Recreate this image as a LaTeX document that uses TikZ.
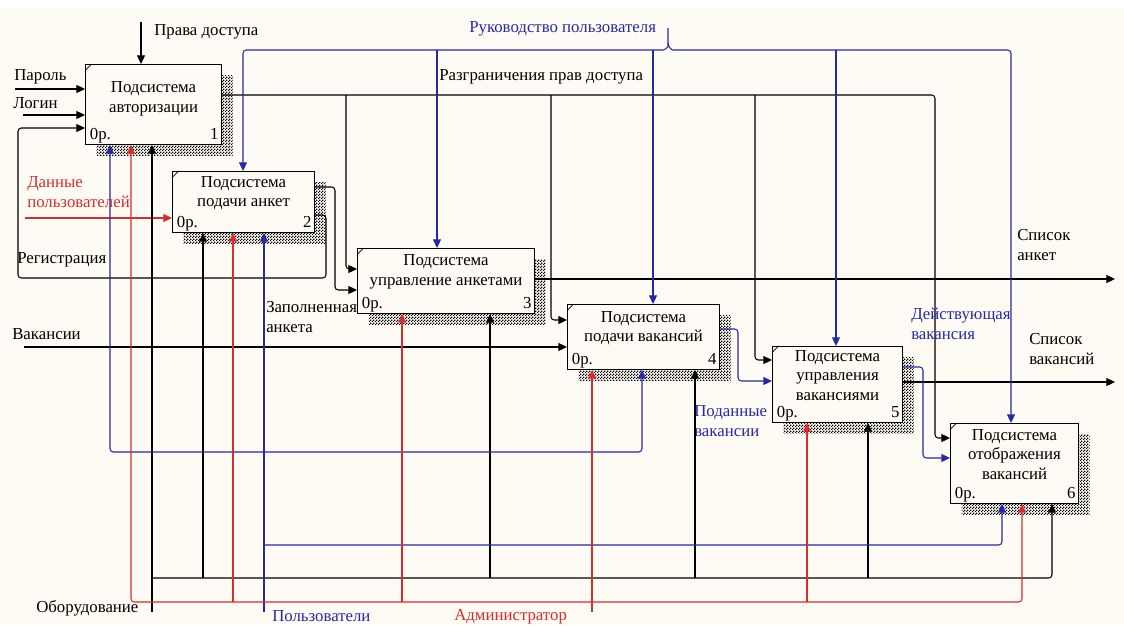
\documentclass[tikz,border=0pt]{standalone}
\usepackage{fontspec}
\setmainfont{Liberation Serif}
\usetikzlibrary{arrows.meta,shadows,patterns}

\definecolor{paper}{RGB}{253,251,243}
\definecolor{ctlblue}{RGB}{40,40,165}
\definecolor{mechred}{RGB}{215,45,45}

\pgfdeclarepatternformonly{dither}{\pgfpointorigin}{\pgfpoint{2.25pt}{2.25pt}}{\pgfpoint{2.25pt}{2.25pt}}{%
  \pgfpathrectangle{\pgfpointorigin}{\pgfpoint{1.125pt}{1.125pt}}%
  \pgfpathrectangle{\pgfpoint{1.125pt}{1.125pt}}{\pgfpoint{1.125pt}{1.125pt}}%
  \pgfusepath{fill}}

\tikzset{
  func/.style={draw, line width=0.8pt, fill=paper, anchor=north west, inner sep=0pt,
    general shadow={shadow xshift=8.25pt, shadow yshift=-8.25pt, pattern=dither, pattern color=black}},
  boxtxt/.style={align=center, yshift=6.75pt},
  lbl/.style={anchor=west, align=left, inner sep=0pt},
  arr/.style={line width=0.8pt, rounded corners=2.5pt, -{Triangle[length=6.5pt,width=6pt]}},
  blk/.style={arr, draw=black},
  blu/.style={arr, draw=ctlblue},
  rd/.style={arr, draw=mechred}
}

\begin{document}
\begin{tikzpicture}[x=0.75pt, y=-0.75pt,
    every node/.style={font=\fontsize{12.6}{14.8}\selectfont}]
    % Background
    \useasboundingbox (0,0) rectangle (1124,625);
    \fill[white] (0,0) rectangle (1124,9);
    \fill[paper] (0,9) rectangle (1124,625);

    % Function boxes
    \node[func, minimum width=102pt, minimum height=60pt,
          label={[boxtxt, yshift=-2.5pt]center:Подсистема\\авторизации}] (b1) at (85,64) {};
    \node[func, minimum width=106.5pt, minimum height=45.75pt,
          label={[boxtxt]center:Подсистема\\подачи анкет}] (b2) at (172,171) {};
    \node[func, minimum width=132.75pt, minimum height=48.75pt,
          label={[boxtxt]center:Подсистема\\управление анкетами}] (b3) at (357,248) {};
    \node[func, minimum width=114pt, minimum height=48.75pt,
          label={[boxtxt]center:Подсистема\\подачи вакансий}] (b4) at (567,304) {};
    \node[func, minimum width=97.5pt, minimum height=57pt,
          label={[boxtxt]center:Подсистема\\управления\\вакансиями}] (b5) at (772,346) {};
    \node[func, minimum width=96pt, minimum height=60pt,
          label={[boxtxt]center:Подсистема\\отображения\\вакансий}] (b6) at (950,423) {};

    % Corner marks, cost and number
    \foreach \b/\n in {b1/1,b2/2,b3/3,b4/4,b5/5,b6/6} {
        \draw[line width=0.5pt] ([yshift=-5pt]\b.north west) -- ([xshift=5pt]\b.north west);
        \node[anchor=base west, inner sep=0pt] (\b-cost) at ([xshift=3.5pt,yshift=4pt]\b.south west) {0р.};
        \node[anchor=base east, inner sep=0pt] (\b-num) at ([xshift=-2.5pt,yshift=4pt]\b.south east) {\n};
    }

    % Inputs and controls of box 1
    \coordinate (prava) at (141,22);
    \draw[blk] (prava) -- (b1.north -| prava);
    \node[lbl] (prava-l) at (154,32) {Права доступа};
    \coordinate (parol) at (15,89);
    \draw[blk] (parol) -- (parol -| b1.west);
    \node[lbl] (parol-l) at (14,77) {Пароль};
    \coordinate (login) at (23,115);
    \draw[blk] (login) -- (login -| b1.west);
    \node[lbl] (login-l) at (13,103) {Логин};

    % Box 2 outputs
    \draw[blk] (b2.east |- 0,215) -- (326,215) -- (326,278) -- (18,278) -- (18,128) -- (b1.west |- 0,128);
    \node[lbl] (reg-l) at (17,260) {Регистрация};
    \draw[blk] (b2.east |- 0,187) -- (335,187) -- (335,290) -- (b3.west |- 0,290);
    \node[lbl] (filled-l) at (266,317) {Заполненная\\анкета};

    % Access rules from box 1
    \draw[blk] (b1.east |- 0,95) -- (935,95) -- (935,438) -- (b6.west |- 0,438);
    \draw[blk] (346,95) -- (346,269) -- (b3.west |- 0,269);
    \draw[blk] (551,95) -- (551,320) -- (b4.west |- 0,320);
    \draw[blk] (755,95) -- (755,360) -- (b5.west |- 0,360);
    \node[lbl] (razgr-l) at (439,77) {Разграничения прав доступа};

    % Vacancies input
    \coordinate (vac) at (24,347);
    \draw[blk] (vac) -- (vac -| b4.west);
    \node[lbl] (vac-l) at (12,334) {Вакансии};

    % Outputs
    \coordinate (anketout) at (1115,279);
    \draw[blk] (b3.east |- anketout) -- (anketout);
    \node[lbl] (anketout-l) at (1017,245) {Список\\анкет};
    \coordinate (vacout) at (1115,382);
    \draw[blk] (b5.east |- vacout) -- (vacout);
    \node[lbl] (vacout-l) at (1029,349) {Список\\вакансий};

    % Blue flows between boxes
    \draw[blu] (b4.east |- 0,329) -- (738,329) -- (738,381) -- (b5.west |- 0,381);
    \node[lbl, text=ctlblue] (sent-l) at (694,421) {Поданные\\вакансии};
    \draw[blu] (b5.east |- 0,367) -- (923,367) -- (923,458) -- (b6.west |- 0,458);
    \node[lbl, text=ctlblue] (active-l) at (911,324) {Действующая\\вакансия};

    % User guide
    \coordinate (guide) at (668,28);
    \draw[blu] (guide) -- (668,43) to[out=-90,in=0] (660,50) -- (243,50) -- (b2.north -| 243,0);
    \draw[blu] (668,43) to[out=-90,in=180] (676,50) -- (1011,50) -- (b6.north -| 1011,0);
    \foreach \x/\b in {437/b3, 653/b4, 836/b5}
        \draw[blu] (\x,50) -- (\b.north -| \x,0);
    \node[lbl, text=ctlblue] (guide-l) at (469,29) {Руководство пользователя};

    % User data
    \coordinate (udata) at (25,218);
    \draw[rd] (udata) -- (udata -| b2.west);
    \node[lbl, text=mechred] (udata-l) at (27,192) {Данные\\пользователей};

    % Mechanisms: equipment
    \coordinate (equip) at (152,612);
    \draw[blk] (equip) -- (b1.south -| equip);
    \draw[blk] (152,578) -- (1052,578) -- (b6.south -| 1052,0);
    \foreach \x/\b in {203/b2, 490/b3, 695/b4, 868/b5}
        \draw[blk] (\x,578) -- (\b.south -| \x,0);
    \node[lbl] (equip-l) at (36,608) {Оборудование};

    % Mechanisms: users
    \coordinate (users) at (264,612);
    \draw[blu] (users) -- (b2.south -| users);
    \draw[blu] (264,452) -- (110,452) -- (b1.south -| 110,0);
    \draw[blu] (264,452) -- (642,452) -- (b4.south -| 642,0);
    \draw[blu] (264,545) -- (1002,545) -- (b6.south -| 1002,0);
    \node[lbl, text=ctlblue] (users-l) at (272,616) {Пользователи};

    % Mechanisms: administrator
    \coordinate (admin) at (592,612);
    \draw[rd] (admin) -- (b4.south -| admin);
    \draw[rd] (592,602) -- (131,602) -- (b1.south -| 131,0);
    \draw[rd] (592,602) -- (1022,602) -- (b6.south -| 1022,0);
    \foreach \x/\b in {233/b2, 402/b3, 807/b5}
        \draw[rd] (\x,602) -- (\b.south -| \x,0);
    \node[lbl, text=mechred] (admin-l) at (454,617) {Администратор};
\end{tikzpicture}
\end{document}
